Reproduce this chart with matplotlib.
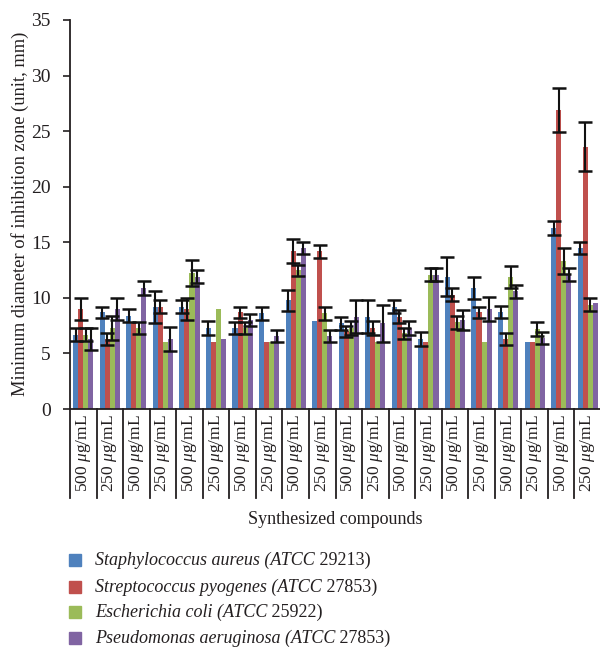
import numpy as np
import matplotlib
matplotlib.use("Agg")
import matplotlib.pyplot as plt
from matplotlib.patches import Rectangle
import matplotlib.transforms as mtransforms

plt.rcParams['font.family'] = ['Liberation Serif', 'DejaVu Serif']
plt.rcParams['mathtext.fontset'] = 'custom'
plt.rcParams['mathtext.rm'] = 'Liberation Serif'
plt.rcParams['mathtext.it'] = 'Liberation Serif:italic'

categories = ["500", "250"] * 10
series_italic = [
    "Staphylococcus aureus (ATCC",
    "Streptococcus pyogenes (ATCC",
    "Escherichia coli (ATCC",
    "Pseudomonas aeruginosa (ATCC",
]
series_upright = [" 29213)", " 27853)", " 25922)", " 27853)"]
colors = ["#4F81BD", "#C0504D", "#9BBB59", "#8064A2"]

s_aureus = [6.7, 8.7, 8.4, 9.2, 9.2, 7.3, 7.3, 8.6, 9.8, 7.9, 7.7, 8.3, 9.2, 6.3, 11.9, 10.9, 8.7, 6.0, 16.3, 14.5]
s_aureus_err = [0.6, 0.5, 0.6, 1.45, 0.6, 0.6, 0.55, 0.6, 0.95, 0, 0.6, 1.5, 0.6, 0.6, 1.75, 1.0, 0.55, 0, 0.6, 0.55]
s_pyogenes = [9.0, 6.3, 7.8, 9.2, 9.0, 6.0, 8.7, 6.0, 14.2, 14.2, 7.0, 7.3, 8.3, 6.0, 10.3, 8.7, 6.3, 6.0, 26.9, 23.6]
s_pyogenes_err = [1.0, 0.55, 0, 0.6, 0.95, 0, 0.5, 0, 1.1, 0.6, 0.5, 0.6, 0.6, 0, 0.6, 0.5, 0.55, 0, 2.0, 2.2]
e_coli = [6.7, 7.3, 7.3, 6.0, 12.2, 9.0, 7.3, 6.0, 12.5, 8.6, 7.3, 6.0, 6.8, 12.1, 7.8, 6.0, 11.9, 7.2, 13.3, 9.4]
e_coli_err = [0.6, 1.1, 0.55, 0, 1.17, 0, 0.55, 0, 0.5, 0.55, 0.6, 0, 0.5, 0.6, 0.6, 0, 1.0, 0.6, 1.17, 0.55]
p_aeruginosa = [6.3, 9.0, 10.9, 6.3, 11.9, 6.3, 8.0, 6.6, 14.5, 6.6, 8.3, 7.7, 7.3, 12.1, 8.0, 9.0, 10.6, 6.4, 12.1, 9.5]
p_aeruginosa_err = [1.0, 1.0, 0.6, 1.05, 0.57, 0, 0.55, 0.55, 0.55, 0.55, 1.5, 1.65, 0.6, 0.6, 0.9, 1.1, 0.6, 0.55, 0.57, 0]

values = [s_aureus, s_pyogenes, e_coli, p_aeruginosa]
errors = [s_aureus_err, s_pyogenes_err, e_coli_err, p_aeruginosa_err]

text_color = "#231F20"
fs = 12.5

fig = plt.figure(figsize=(6.0, 6.5), dpi=100)
ax = fig.add_axes([70/600, 1 - 409/650, 531/600, (409 - 20)/650])

n = len(categories)
x = np.arange(n)
bw = 0.19
for i, (vals, errs, c) in enumerate(zip(values, errors, colors)):
    xs = x + (i - 1.5) * bw
    vals = np.array(vals)
    errs = np.array(errs)
    ax.bar(xs, vals, width=bw, color=c, linewidth=0, zorder=2)
    m = errs > 0
    ax.errorbar(xs[m], vals[m], yerr=errs[m], fmt='none', ecolor='#111111',
                elinewidth=1.5, capsize=5, capthick=1.8, zorder=3)

ax.set_xlim(-0.5, n - 0.5)
ax.set_ylim(0, 35)
ax.set_yticks(np.arange(0, 36, 5))
ax.tick_params(axis='y', direction='out', length=5, width=1.2, colors=text_color,
               labelsize=14, pad=9)
ax.set_xticks(x)
ax.set_xticklabels([f"{c} " + r"$\mathit{μ}$g/mL" for c in categories],
                   rotation=90, fontsize=fs, color=text_color)
ax.tick_params(axis='x', length=0, pad=4)
for s in ['top', 'right']:
    ax.spines[s].set_visible(False)
for s in ['left', 'bottom']:
    ax.spines[s].set_color(text_color)
    ax.spines[s].set_linewidth(1.3)

# category boxes
trans = mtransforms.blended_transform_factory(ax.transData, ax.transAxes)
box_bottom = -(498 - 409) / 389
for b in np.arange(-0.5, n, 1.0):
    ax.plot([b, b], [0, box_bottom], transform=trans, color=text_color,
            linewidth=1.3, clip_on=False)

fig.text(20/600, 1 - 214/650, "Minimum diameter of inhibition zone (unit, mm)",
         rotation=90, ha='center', va='center', fontsize=13.3, color=text_color)
fig.text(335/600, 1 - 519/650, "Synthesized compounds", ha='center', va='center',
         fontsize=13, color=text_color)

# legend
rows_y = [560, 587, 612, 638]
renderer = fig.canvas.get_renderer()
for it, up, c, yy in zip(series_italic, series_upright, colors, rows_y):
    fig.patches.append(Rectangle((69/600, 1 - (yy + 6)/650), 12/600, 12/650,
                                 transform=fig.transFigure, color=c, figure=fig))
    t = fig.text(95/600, 1 - yy/650, it, ha='left', va='center', fontsize=13,
                 style='italic', color=text_color)
    bb = t.get_window_extent(renderer=renderer)
    fig.text(bb.x1 / fig.bbox.width, 1 - yy/650, up, ha='left', va='center',
             fontsize=13, color=text_color)

fig.savefig("out.png", dpi=100)
